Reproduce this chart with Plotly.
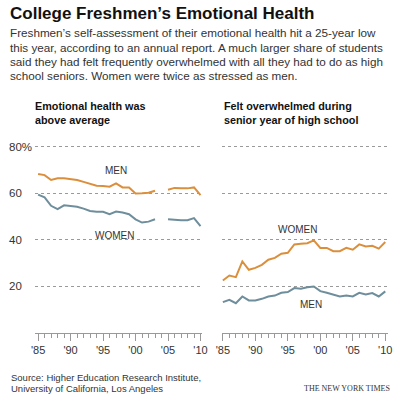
import plotly.graph_objects as go

years = list(range(1985, 2011))

# Emotional health above average (2004 missing)
eh_men = [68.4, 67.9, 65.8, 66.5, 66.5, 66.2, 65.8, 65.0, 64.0, 63.3, 63.2, 62.9, 64.3, 62.6, 62.6,
          60.0, 60.1, 60.3, 61.2, None, 61.6, 62.4, 62.2, 62.2, 62.6, 59.3]
eh_women = [59.5, 58.3, 54.7, 53.3, 54.9, 54.7, 54.3, 53.5, 52.5, 52.1, 52.1, 51.1, 52.2, 51.8, 51.1,
            48.9, 47.5, 47.9, 48.9, None, 48.9, 48.6, 48.5, 48.5, 49.4, 46.0]

# Felt overwhelmed during senior year of high school
ov_women = [22.6, 24.7, 24.0, 30.8, 27.2, 28.0, 29.3, 31.5, 32.3, 34.1, 34.5, 38.1, 38.4, 38.6, 39.8,
            36.6, 36.6, 35.2, 35.2, 36.6, 35.8, 38.1, 37.2, 37.5, 36.3, 39.1]
ov_men = [13.3, 14.3, 12.8, 15.7, 14.0, 14.0, 14.7, 15.7, 16.1, 17.3, 17.6, 19.3, 19.0, 19.7, 20.0,
          18.0, 17.3, 16.4, 15.7, 16.1, 15.7, 17.3, 16.6, 17.2, 15.7, 17.9]

grid_vals = [20, 40, 60, 80]
grid_text = ["20", "40", "60", "80%"]
tick_years = [1985, 1990, 1995, 2000, 2005, 2010]
tick_text = ["'85", "'90", "'95", "'00", "'05", "'10"]

ORANGE = "#DB8F3C"
BLUE = "#6E8E9C"
TXT = "#333333"
W, H = 400, 394

def px(x):
    return x / W

def py(y):
    return 1 - y / H

fig = go.Figure()
fig.add_trace(go.Scatter(x=years, y=eh_men, mode="lines", line=dict(color=ORANGE, width=2),
                         xaxis="x", yaxis="y", connectgaps=False, hoverinfo="skip"))
fig.add_trace(go.Scatter(x=years, y=eh_women, mode="lines", line=dict(color=BLUE, width=2),
                         xaxis="x", yaxis="y", connectgaps=False, hoverinfo="skip"))
fig.add_trace(go.Scatter(x=years, y=ov_women, mode="lines", line=dict(color=ORANGE, width=2),
                         xaxis="x2", yaxis="y2", hoverinfo="skip"))
fig.add_trace(go.Scatter(x=years, y=ov_men, mode="lines", line=dict(color=BLUE, width=2),
                         xaxis="x2", yaxis="y2", hoverinfo="skip"))

ydom = [py(333), py(140)]
yrange = [0, 83]
xcommon = dict(showgrid=False, zeroline=False, showline=True, linecolor="#999999", linewidth=1,
               ticks="outside", ticklen=7, tickwidth=1, tickcolor="#999999",
               tickvals=tick_years, ticktext=tick_text,
               tickfont=dict(family="Liberation Sans, Arial, sans-serif", size=11, color=TXT),
               minor=dict(dtick=1, tick0=1985, ticks="outside", ticklen=4, tickcolor="#999999", showgrid=False),
               fixedrange=True)
ycommon = dict(range=yrange, domain=ydom, showgrid=True, gridcolor="#9a9a9a", griddash="dot", gridwidth=1,
               tickvals=grid_vals, showticklabels=False, zeroline=False, showline=False, ticks="",
               fixedrange=True)

fig.update_layout(
    width=W, height=H,
    margin=dict(l=0, r=0, t=0, b=0),
    paper_bgcolor="white", plot_bgcolor="white",
    showlegend=False,
    xaxis=dict(domain=[px(30), px(202)], range=[1984.55, 2010.3], anchor="y", **xcommon),
    yaxis=dict(anchor="x", **ycommon),
    xaxis2=dict(domain=[px(222), px(393)], range=[1984.85, 2010.45], anchor="y2", **xcommon),
    yaxis2=dict(anchor="x2", **ycommon),
)

ann = []
FONT = "Liberation Sans, Arial, sans-serif"
ann.append(dict(x=px(2), y=py(2), xref="paper", yref="paper", xanchor="left", yanchor="top",
                text="<b>College Freshmen’s Emotional Health</b>", showarrow=False,
                font=dict(family=FONT, size=17, color="#111111")))
sub = ["Freshmen’s self-assessment of their emotional health hit a 25-year low",
       "this year, according to an annual report. A much larger share of students",
       "said they had felt frequently overwhelmed with all they had to do as high",
       "school seniors. Women were twice as stressed as men."]
for i, s in enumerate(sub):
    ann.append(dict(x=px(2), y=py(33 + i * 14.2), xref="paper", yref="paper", xanchor="left", yanchor="middle",
                    text=s, showarrow=False, font=dict(family=FONT, size=11.7, color=TXT)))
for i, s in enumerate(["Emotional health was", "above average"]):
    ann.append(dict(x=px(28), y=py(106 + i * 14), xref="paper", yref="paper", xanchor="left", yanchor="middle",
                    text="<b>" + s + "</b>", showarrow=False, font=dict(family=FONT, size=10.8, color="#111111")))
for i, s in enumerate(["Felt overwhelmed during", "senior year of high school"]):
    ann.append(dict(x=px(222), y=py(106 + i * 14), xref="paper", yref="paper", xanchor="left", yanchor="middle",
                    text="<b>" + s + "</b>", showarrow=False, font=dict(family=FONT, size=10.8, color="#111111")))
for v, t in zip(grid_vals, grid_text):
    ann.append(dict(x=px(1), y=v, xref="paper", yref="y", xanchor="left", yanchor="middle",
                    text=t, showarrow=False, font=dict(family=FONT, size=11.5, color=TXT)))
# series labels
ann.append(dict(x=1997, y=66.5, xref="x", yref="y", text="MEN", showarrow=False, yanchor="bottom",
                font=dict(family=FONT, size=10, color=TXT)))
ann.append(dict(x=1996.7, y=45.3, xref="x", yref="y", text="WOMEN", showarrow=False, yanchor="top",
                font=dict(family=FONT, size=10, color=TXT)))
ann.append(dict(x=1996.5, y=41.2, xref="x2", yref="y2", text="WOMEN", showarrow=False, yanchor="bottom",
                font=dict(family=FONT, size=10, color=TXT)))
ann.append(dict(x=1998.6, y=15.5, xref="x2", yref="y2", text="MEN", showarrow=False, yanchor="top",
                font=dict(family=FONT, size=10, color=TXT)))
# source
ann.append(dict(x=px(3), y=py(377), xref="paper", yref="paper", xanchor="left", yanchor="middle",
                text="Source: Higher Education Research Institute,", showarrow=False,
                font=dict(family=FONT, size=9.5, color=TXT)))
ann.append(dict(x=px(3), y=py(388.5), xref="paper", yref="paper", xanchor="left", yanchor="middle",
                text="University of California, Los Angeles", showarrow=False,
                font=dict(family=FONT, size=9.5, color=TXT)))
ann.append(dict(x=px(397), y=py(388.5), xref="paper", yref="paper", xanchor="right", yanchor="middle",
                text="THE NEW YORK TIMES", showarrow=False,
                font=dict(family="Liberation Serif, Times New Roman, serif", size=8, color=TXT)))
fig.update_layout(annotations=ann)

fig.write_html("out.html", config={"displayModeBar": False},
               post_script="document.body.style.margin='0px';document.body.style.overflow='hidden';")
